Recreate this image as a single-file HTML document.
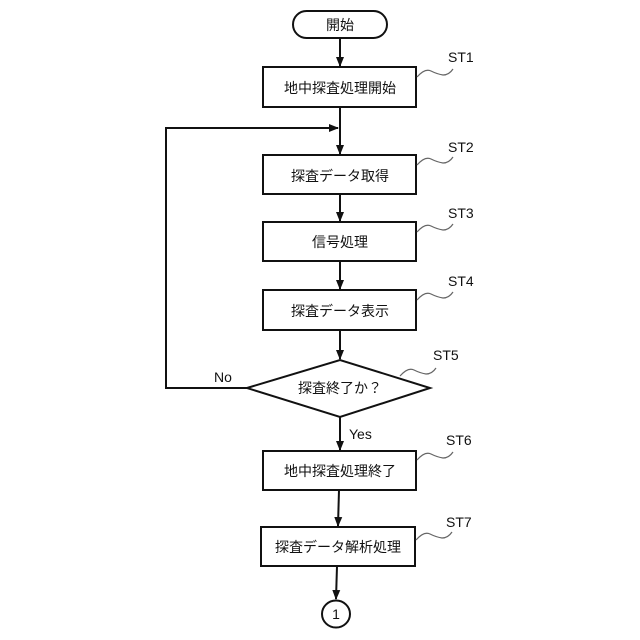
<!DOCTYPE html>
<html><head><meta charset="utf-8"><style>
html,body{margin:0;padding:0;background:#fff;}
svg{display:block;}
text{font-family:"Liberation Sans","Noto Sans CJK JP",sans-serif;fill:#111;}
</style></head><body>
<svg width="640" height="640" viewBox="0 0 640 640" xmlns="http://www.w3.org/2000/svg">
<defs><marker id="a" markerWidth="10" markerHeight="10" refX="9" refY="5" orient="auto" markerUnits="userSpaceOnUse"><path d="M0,1 L10,5 L0,9 z" fill="#111"/></marker></defs>
<g stroke="#111" stroke-width="2" fill="none">
<rect x="293" y="11" width="94" height="27" rx="13.5" fill="#fff"/>
<rect x="263" y="67" width="153" height="40" fill="#fff"/>
<rect x="263" y="155" width="153" height="39" fill="#fff"/>
<rect x="263" y="222" width="153" height="39" fill="#fff"/>
<rect x="263" y="290" width="153" height="40" fill="#fff"/>
<polygon points="247,388 340,360 430,388 340,417" fill="#fff"/>
<rect x="263" y="451" width="153" height="39" fill="#fff"/>
<rect x="261" y="527" width="154" height="39" fill="#fff"/>
<ellipse cx="336" cy="614" rx="14" ry="13.5" fill="#fff"/>
<line x1="340" y1="38" x2="340" y2="66" marker-end="url(#a)"/>
<line x1="340" y1="107" x2="340" y2="154" marker-end="url(#a)"/>
<line x1="340" y1="194" x2="340" y2="221" marker-end="url(#a)"/>
<line x1="340" y1="261" x2="340" y2="289" marker-end="url(#a)"/>
<line x1="340" y1="330" x2="340" y2="359" marker-end="url(#a)"/>
<line x1="340" y1="417" x2="340" y2="450" marker-end="url(#a)"/>
<line x1="339" y1="490" x2="338" y2="526" marker-end="url(#a)"/>
<line x1="337" y1="566" x2="336" y2="599" marker-end="url(#a)"/>
<polyline points="247,388 166,388 166,128 338,128" marker-end="url(#a)"/>
</g>
<g stroke="#666" stroke-width="1.2" fill="none">
<path d="M417,77 q8,-9 14,-6 t12,4 q6,0 10,-6"/>
<path d="M417,165 q8,-9 14,-6 t12,4 q6,0 10,-6"/>
<path d="M417,232 q8,-9 14,-6 t12,4 q6,0 10,-6"/>
<path d="M417,300 q8,-9 14,-6 t12,4 q6,0 10,-6"/>
<path d="M400,376 q8,-9 14,-6 t12,4 q6,0 10,-6"/>
<path d="M417,460 q8,-9 14,-6 t12,4 q6,0 10,-6"/>
<path d="M416,540 q8,-9 14,-6 t12,4 q6,0 10,-6"/>
</g>
<g font-size="14" text-anchor="middle">
<text x="340" y="30">開始</text>
<text x="340" y="93">地中探査処理開始</text>
<text x="340" y="181">探査データ取得</text>
<text x="340" y="247">信号処理</text>
<text x="340" y="316">探査データ表示</text>
<text x="340" y="393">探査終了か？</text>
<text x="340" y="476">地中探査処理終了</text>
<text x="338" y="552">探査データ解析処理</text>
<text x="336" y="619">1</text>
</g>
<g font-size="14">
<text x="448" y="62">ST1</text>
<text x="448" y="152">ST2</text>
<text x="448" y="218">ST3</text>
<text x="448" y="286">ST4</text>
<text x="433" y="360">ST5</text>
<text x="446" y="445">ST6</text>
<text x="446" y="527">ST7</text>
<text x="214" y="382">No</text>
<text x="349" y="439">Yes</text>
</g>
</svg>
</body></html>
